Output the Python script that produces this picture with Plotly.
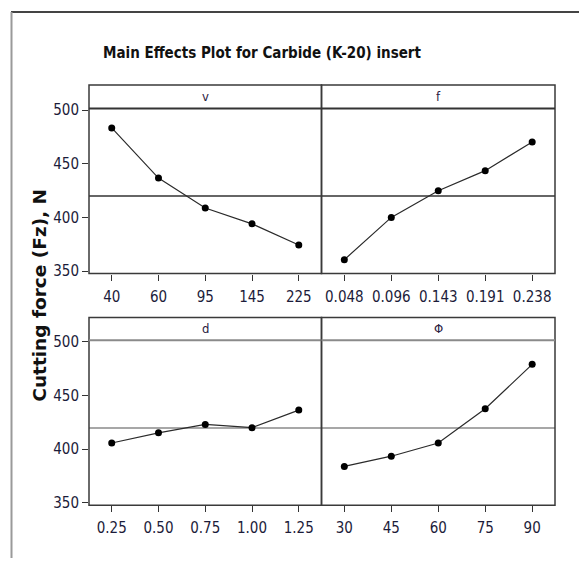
import numpy as np
import plotly.graph_objects as go

# Factor levels and mean cutting force (N) at each level
v_levels = ["40", "60", "95", "145", "225"]
v_means = [483.4, 436.7, 408.8, 394.0, 374.3]

f_levels = ["0.048", "0.096", "0.143", "0.191", "0.238"]
f_means = [360.6, 400.0, 424.9, 443.6, 470.3]

d_levels = ["0.25", "0.50", "0.75", "1.00", "1.25"]
d_means = [405.8, 415.3, 423.1, 420.1, 436.5]

phi_levels = ["30", "45", "60", "75", "90"]
phi_means = [384.0, 393.5, 405.8, 437.7, 479.1]

factor_names = ["v", "f", "d", "\u03a6"]
y_ticks = [350, 400, 450, 500]

panels = [
    (factor_names[0], v_levels, v_means),
    (factor_names[1], f_levels, f_means),
    (factor_names[2], d_levels, d_means),
    (factor_names[3], phi_levels, phi_means),
]
grand_mean = float(np.mean(v_means + f_means + d_means + phi_means))

# ---- page geometry (pixels) ----
W, H = 579, 565
col_x = [(89, 321.5), (321.5, 555)]
row_y = [(104, 273.3), (341.7, 511)]   # plot area top / bottom
strip_h = [24, 23.4]


def px_x(a, b):
    return [a / W, b / W]


def px_y(top, bottom):
    return [1 - bottom / H, 1 - top / H]


NARROW = "DejaVu Sans Condensed, Roboto Condensed, Liberation Sans Narrow, Roboto"
TICK_FONT = dict(family=NARROW, size=15, color="#1c1c3a")
fig = go.Figure()
layout = {}

for i, (name, levels, means) in enumerate(panels):
    r, c = divmod(i, 2)
    n = i + 1
    xa = "x" if n == 1 else f"x{n}"
    ya = "y" if n == 1 else f"y{n}"
    fig.add_trace(go.Scatter(
        x=list(range(len(levels))), y=means, xaxis=xa, yaxis=ya,
        mode="lines+markers",
        line=dict(color="#2b2b2b", width=1.2),
        marker=dict(color="#000000", size=7),
        showlegend=False, hoverinfo="x+y",
    ))
    top, bottom = row_y[r]
    layout[f"xaxis{'' if n == 1 else n}"] = dict(
        domain=px_x(*col_x[c]), anchor=ya,
        range=[-0.486, len(levels) - 1 + 0.486],
        tickmode="array", tickvals=list(range(len(levels))), ticktext=levels,
        ticks="outside", ticklen=6, tickcolor="#333", tickwidth=1,
        ticklabelstandoff=3,
        tickfont=TICK_FONT, showgrid=False, zeroline=False, showline=False,
    )
    layout[f"yaxis{'' if n == 1 else n}"] = dict(
        domain=px_y(top, bottom), anchor=xa,
        range=[347.7, 501.6],
        tickmode="array", tickvals=y_ticks,
        ticks="outside" if c == 0 else "", ticklen=6, tickcolor="#333",
        showticklabels=(c == 0), tickfont=TICK_FONT,
        showgrid=False, zeroline=False, showline=False,
    )

    frame_col = "#3a3a3a"
    row_line = "#333333" if r == 0 else "#8a8a8a"
    s_frac = strip_h[r] / (bottom - top)
    xd, yd = f"{xa} domain", f"{ya} domain"
    # panel frame including strip
    fig.add_shape(type="rect", xref=xd, yref=yd, x0=0, x1=1, y0=0, y1=1 + s_frac,
                  line=dict(color=frame_col, width=1.5), layer="above")
    # strip separator
    fig.add_shape(type="line", xref=xd, yref=yd, x0=0, x1=1, y0=1, y1=1,
                  line=dict(color=row_line, width=2), layer="above")
    # grand mean reference line
    fig.add_shape(type="line", xref=xd, yref=ya, x0=0, x1=1,
                  y0=grand_mean, y1=grand_mean,
                  line=dict(color=row_line, width=1.5), layer="below")
    fig.add_annotation(text=name, xref=xd, yref=yd, x=0.5, y=1 + s_frac / 2,
                       showarrow=False, yanchor="middle",
                       font=dict(family=NARROW, size=13, color="#2a2040"))

# outer frame (top and left edges)
fig.add_shape(type="line", xref="paper", yref="paper", x0=11 / W, x1=1,
              y0=1 - 5 / H, y1=1 - 5 / H, line=dict(color="#444", width=2))
fig.add_shape(type="line", xref="paper", yref="paper", x0=11.5 / W, x1=11.5 / W,
              y0=0, y1=1 - 5 / H, line=dict(color="#9a9a9a", width=2))

fig.add_annotation(text="<b>Main Effects Plot for Carbide (K-20) insert</b>",
                   xref="paper", yref="paper", x=262 / W, y=1 - 47 / H,
                   showarrow=False, xanchor="center", yanchor="middle",
                   font=dict(family=NARROW, size=15, color="#111"))
fig.add_annotation(text="<b>Cutting force (Fz), N</b>",
                   xref="paper", yref="paper", x=40 / W, y=1 - 296 / H,
                   showarrow=False, textangle=-90, xanchor="center", yanchor="middle",
                   font=dict(family="DejaVu Sans", size=18.5, color="#111"))

fig.update_layout(
    width=W, height=H, margin=dict(l=0, r=0, t=0, b=0),
    paper_bgcolor="white", plot_bgcolor="white", showlegend=False,
    **layout,
)
fig.write_html("out.html")
